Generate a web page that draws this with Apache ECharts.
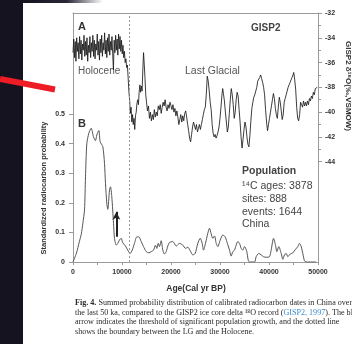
<!DOCTYPE html>
<html><head><meta charset="utf-8">
<script src="https://cdn.jsdelivr.net/npm/echarts@6/dist/echarts.min.js"></script>
<style>html,body{margin:0;padding:0;background:#fff}#c{width:352px;height:344px}</style>
</head><body><div id="c"></div>
<script>
// GISP2 delta 18O record (age cal yr BP, permil)
const gispHolocene = [[0,-35.2],[150,-34.1],[300,-35.6],[450,-34.3],[600,-35.9],[750,-34.0],[900,-35.1],[1050,-34.4],[1200,-35.7],[1350,-33.9],[1500,-35.3],[1650,-34.2],[1800,-35.8],[1950,-34.5],[2100,-35.0],[2250,-33.8],[2400,-35.5],[2550,-34.3],[2700,-35.4],[2850,-34.0],[3000,-35.9],[3150,-34.6],[3300,-35.2],[3450,-33.9],[3600,-35.6],[3750,-34.4],[3900,-35.1],[4050,-33.8],[4200,-35.5],[4350,-34.2],[4500,-35.7],[4650,-34.5],[4800,-35.0],[4950,-33.7],[5100,-35.4],[5250,-34.3],[5400,-35.8],[5550,-34.1],[5700,-35.2],[5850,-33.8],[6000,-35.5],[6150,-34.4],[6300,-35.0],[6450,-33.6],[6600,-35.3],[6750,-34.2],[6900,-35.6],[7050,-34.0],[7200,-35.1],[7350,-33.7],[7500,-35.4],[7650,-34.3],[7800,-35.0],[7950,-33.9],[8100,-35.3],[8250,-36.6],[8400,-34.2],[8550,-35.2],[8700,-33.8],[8850,-35.0],[9000,-34.1],[9150,-35.4],[9300,-33.7],[9450,-34.9],[9600,-33.9],[9750,-35.1],[9900,-34.2],[10050,-35.3],[10200,-34.6],[10350,-35.6],[10500,-35.1],[10650,-36.0],[10800,-35.7],[10950,-36.4],[11100,-36.2],[11250,-37.2],[11400,-38.3],[11550,-39.0],[11700,-40.1]];
const gispGlacial = [[11850,-39.6],[12000,-40.8],[12150,-40.2],[12300,-41.0],[12450,-40.5],[12600,-41.4],[12750,-40.3],[12900,-40.0],[13050,-39.3],[13200,-39.0],[13350,-39.4],[13500,-38.4],[13650,-37.8],[13800,-38.4],[13950,-37.9],[14100,-38.3],[14250,-36.6],[14400,-35.2],[14550,-36.2],[14700,-37.3],[14850,-38.6],[15000,-39.2],[15200,-39.9],[15400,-39.5],[15600,-40.5],[15800,-40.0],[16000,-40.7],[16200,-40.2],[16400,-40.6],[16600,-39.8],[16800,-40.4],[17000,-40.0],[17200,-40.3],[17400,-39.5],[17600,-39.8],[17800,-39.4],[18000,-40.1],[18200,-39.6],[18400,-39.2],[18600,-39.5],[18800,-39.0],[19000,-39.6],[19200,-39.9],[19400,-39.4],[19600,-39.7],[19800,-39.2],[20000,-39.5],[20200,-39.8],[20400,-39.4],[20600,-40.0],[20800,-39.7],[21000,-40.3],[21200,-39.9],[21400,-40.4],[21600,-41.0],[21800,-40.6],[22000,-40.2],[22200,-40.8],[22400,-40.3],[22600,-40.7],[22800,-40.1],[23000,-39.9],[23200,-40.4],[23400,-41.0],[23600,-41.5],[23800,-42.1],[24000,-42.4],[24200,-41.8],[24400,-41.2],[24600,-40.8],[24800,-40.9],[25000,-41.4],[25200,-41.0],[25400,-41.6],[25600,-41.3],[25800,-41.0],[26000,-41.4],[26200,-41.0],[26400,-40.6],[26600,-40.2],[26800,-39.8],[27000,-39.6],[27200,-38.6],[27400,-37.1],[27600,-37.5],[27800,-38.3],[28000,-39.2],[28200,-39.8],[28400,-41.0],[28600,-41.7],[28800,-42.0],[29000,-41.8],[29200,-42.1],[29400,-41.9],[29600,-41.6],[29800,-41.2],[30000,-40.5],[30200,-39.6],[30400,-38.6],[30550,-38.1],[30700,-38.5],[30900,-39.1],[31100,-40.0],[31300,-40.8],[31500,-41.6],[31700,-41.2],[31900,-40.1],[32100,-39.0],[32300,-38.1],[32500,-38.6],[32700,-39.4],[32900,-40.5],[33100,-40.0],[33300,-39.0],[33500,-38.4],[33700,-38.7],[33900,-39.8],[34100,-40.8],[34300,-42.0],[34500,-42.9],[34700,-42.2],[34900,-41.4],[35100,-40.8],[35300,-41.2],[35500,-42.0],[35700,-42.6],[35900,-42.8],[36100,-41.9],[36300,-40.7],[36500,-39.7],[36700,-39.2],[36900,-38.8],[37100,-38.6],[37300,-38.3],[37500,-38.0],[37700,-37.5],[37900,-37.4],[38100,-37.2],[38300,-37.0],[38500,-37.3],[38700,-37.6],[38900,-38.0],[39100,-38.6],[39300,-39.8],[39500,-40.8],[39700,-41.5],[39900,-41.0],[40100,-40.5],[40300,-40.0],[40500,-39.5],[40700,-39.0],[40900,-38.5],[41100,-38.9],[41300,-39.7],[41500,-40.2],[41700,-40.5],[41900,-39.6],[42100,-38.8],[42300,-39.2],[42500,-39.9],[42700,-40.6],[42900,-40.2],[43100,-39.2],[43300,-38.9],[43500,-38.6],[43700,-38.3],[43900,-38.0],[44100,-37.8],[44300,-37.6],[44500,-37.4],[44700,-37.2],[44900,-37.0],[45050,-36.8],[45250,-37.4],[45450,-38.2],[45650,-39.6],[45850,-40.5],[46050,-40.7],[46250,-40.2],[46450,-39.2],[46650,-39.4],[46850,-39.6],[47050,-39.1],[47250,-39.5],[47450,-39.2],[47650,-39.5],[47850,-39.1],[48050,-39.4],[48250,-38.9],[48450,-39.1],[48650,-38.7],[48850,-38.9],[49050,-38.4],[49250,-38.6],[49450,-38.1],[49650,-38.2],[49850,-38.0]];
// Standardized radiocarbon probability (age cal yr BP, probability)
const probability = [[0,0],[700,0.03],[1300,0.069],[1700,0.095],[2000,0.13],[2350,0.176],[2550,0.288],[2820,0.40],[3230,0.435],[3710,0.452],[4180,0.423],[4590,0.41],[4860,0.429],[5270,0.444],[5550,0.406],[6080,0.39],[6430,0.333],[6630,0.266],[6900,0.198],[7100,0.178],[7450,0.243],[7650,0.254],[7920,0.22],[8270,0.131],[8470,0.08],[8820,0.057],[9140,0.063],[9500,0.075],[9840,0.08],[10160,0.065],[10710,0.054],[11180,0.04],[11670,0.029],[12080,0.04],[12550,0.063],[13020,0.085],[13430,0.085],[13920,0.069],[14390,0.052],[14940,0.035],[15470,0.031],[15960,0.035],[16430,0.04],[16840,0.057],[17100,0.046],[17390,0.063],[17650,0.052],[18000,0.072],[18330,0.04],[18670,0.027],[19020,0.035],[19350,0.054],[19690,0.066],[20370,0.069],[21060,0.054],[21730,0.063],[22410,0.057],[22960,0.046],[23430,0.05],[23920,0.038],[24450,0.024],[24940,0.029],[25470,0.063],[25960,0.08],[26370,0.063],[26630,0.04],[27040,0.063],[27510,0.097],[27860,0.114],[28200,0.095],[28530,0.08],[28880,0.088],[29220,0.063],[29560,0.052],[30040,0.074],[30570,0.091],[31060,0.085],[31390,0.069],[31940,0.04],[32280,0.02],[32610,0.035],[32960,0.04],[33300,0.057],[33630,0.069],[33980,0.063],[34330,0.046],[34650,0.04],[35000,0.052],[35470,0.035],[35750,0.007],[36020,0],[37040,0],[37380,0.018],[37920,0.029],[38400,0.024],[38880,0.018],[39420,0.016],[40100,0.018],[40440,0.04],[40920,0.08],[41330,0.057],[41600,0.035],[42000,0.052],[42490,0.029],[42820,0.009],[43160,0.024],[43510,0.029],[43840,0.018],[44330,0.027],[44860,0.031],[45410,0.043],[45880,0.052],[46220,0.063],[46570,0.052],[46900,0.029],[47240,0.004],[47590,0],[49600,0]];
// Markers
const boundaryAge = 11500;               // LG / Holocene boundary (dotted line)
const arrowAge = 8850;                   // threshold of population growth
const arrowRange = [0.085, 0.17];
const ageRange = [0, 50000];
const gispRange = [-44, -32];
const probRange = [0, 0.5];
const populationLines = ['\u00B9\u2074C ages: 3878', 'sites: 888', 'events: 1644', 'China'];
const captionLines = [
  'Summed probability distribution of calibrated radiocarbon dates in China over',
  'the last 50 ka, compared to the GISP2 ice core delta \u00B9\u2078O record (',
  'arrow indicates the threshold of significant population growth, and the dotted line',
  'shows the boundary between the LG and the Holocene.'
];

const chart = echarts.init(document.getElementById('c'), null, {renderer: 'canvas'});
const F = 'Liberation Sans, Arial, sans-serif';
const AX = '#9a9a9a';
const lab = {fontFamily: F, fontSize: 7, fontWeight: 'bold', color: '#333'};
const CF = '8.1px Liberation Serif, serif';

const option = {
  animation: false,
  backgroundColor: '#fff',
  grid: [
    {left: 73, right: 34, top: 13, height: 148.7},
    {left: 73, right: 34, top: 114, height: 148},
    {left: 73, right: 34, top: 13, height: 249}
  ],
  xAxis: [
    {gridIndex: 0, type: 'value', min: ageRange[0], max: ageRange[1], position: 'top',
     axisLine: {show: true, onZero: false, lineStyle: {color: AX, width: 1}}, axisTick: {show: false}, axisLabel: {show: false}, splitLine: {show: false}},
    {gridIndex: 1, type: 'value', min: ageRange[0], max: ageRange[1], interval: 5000, position: 'bottom',
     axisLine: {show: true, onZero: false, lineStyle: {color: AX, width: 1}},
     axisTick: {show: true, length: 3, lineStyle: {color: AX}},
     axisLabel: Object.assign({margin: 7, formatter: v => (v % 10000 === 0 ? String(v) : '')}, lab),
     splitLine: {show: false}},
    {gridIndex: 2, type: 'value', min: ageRange[0], max: ageRange[1], show: false}
  ],
  yAxis: [
    {gridIndex: 0, type: 'value', position: 'right', min: gispRange[0], max: gispRange[1], interval: 2,
     axisLine: {show: true, onZero: false, lineStyle: {color: AX, width: 1}},
     axisTick: {show: true, length: 4, lineStyle: {color: AX}},
     minorTick: {show: true, splitNumber: 2, length: 3, lineStyle: {color: AX}},
     axisLabel: Object.assign({margin: 7}, lab), splitLine: {show: false}},
    {gridIndex: 0, type: 'value', position: 'left', min: gispRange[0], max: gispRange[1],
     axisLine: {show: true, onZero: false, lineStyle: {color: AX, width: 1}}, axisTick: {show: false}, axisLabel: {show: false}, splitLine: {show: false}},
    {gridIndex: 1, type: 'value', position: 'left', min: probRange[0], max: probRange[1], interval: 0.1,
     axisLine: {show: true, onZero: false, lineStyle: {color: AX, width: 1}},
     axisTick: {show: true, length: 4, lineStyle: {color: AX}},
     axisLabel: Object.assign({margin: 8, formatter: v => (v === 0 ? '0' : v.toFixed(1))}, lab),
     splitLine: {show: false}},
    {gridIndex: 1, type: 'value', position: 'right', min: probRange[0], max: probRange[1],
     axisLine: {show: true, onZero: false, lineStyle: {color: AX, width: 1}}, axisTick: {show: false}, axisLabel: {show: false}, splitLine: {show: false}},
    {gridIndex: 2, type: 'value', min: 0, max: 1, show: false}
  ],
  series: [
    {type: 'line', xAxisIndex: 0, yAxisIndex: 0, data: gispHolocene.concat(gispGlacial), showSymbol: false,
     lineStyle: {color: '#1a1a1a', width: 0.85}, silent: true},
    {type: 'line', xAxisIndex: 1, yAxisIndex: 2, data: probability, showSymbol: false, smooth: 0.25,
     lineStyle: {color: '#555', width: 1}, silent: true,
     markLine: {silent: true, symbol: ['none', 'arrow'], symbolSize: [6, 8], label: {show: false},
       lineStyle: {color: '#222', width: 2, type: 'solid'},
       data: [[{coord: [arrowAge, arrowRange[0]]}, {coord: [arrowAge, arrowRange[1]]}]]}},
    {type: 'line', xAxisIndex: 2, yAxisIndex: 4, data: [], silent: true,
     markLine: {silent: true, symbol: ['none', 'none'], label: {show: false},
       lineStyle: {color: '#999', width: 1, type: [2, 2]},
       data: [{xAxis: boundaryAge}]}}
  ],
  graphic: [
    {type: 'rect', left: 0, top: 0, shape: {width: 23, height: 344}, style: {fill: '#15131f'}, z: 100},
    {type: 'rect', left: 23, top: 0, shape: {width: 80, height: 3},
     style: {fill: new echarts.graphic.LinearGradient(0, 0, 1, 0, [{offset: 0, color: '#15131f'}, {offset: 0.55, color: '#2a2838'}, {offset: 1, color: '#ffffff'}])}, z: 100},
    {type: 'line', shape: {x1: 0, y1: 79, x2: 55, y2: 89.5}, style: {stroke: '#ee1c24', lineWidth: 6}, z: 101},
    {type: 'text', left: 78, top: 21, style: {text: 'A', font: 'bold 11px ' + F, fill: '#333'}},
    {type: 'text', left: 78, top: 118, style: {text: 'B', font: 'bold 11px ' + F, fill: '#333'}},
    {type: 'text', left: 251, top: 23, style: {text: 'GISP2', font: 'bold 10px ' + F, fill: '#444'}},
    {type: 'text', left: 78, top: 66, style: {text: 'Holocene', font: '10px ' + F, fill: '#555'}},
    {type: 'text', left: 185, top: 66, style: {text: 'Last Glacial', font: '10.5px ' + F, fill: '#555'}},
    {type: 'text', left: 242, top: 166, style: {text: 'Population', font: 'bold 10.5px ' + F, fill: '#444'}},
    {type: 'text', left: 242, top: 180, style: {text: populationLines.join('\n'), font: '10.5px ' + F, fill: '#444', lineHeight: 12.7}},
    {type: 'text', x: 196, y: 289, style: {text: 'Age(Cal yr BP)', font: 'bold 8.5px ' + F, fill: '#333', textAlign: 'center', textVerticalAlign: 'middle'}},
    {type: 'text', x: 44, y: 188, rotation: Math.PI / 2, style: {text: 'Standardized radiocarbon probability', font: 'bold 7.5px ' + F, fill: '#333', textAlign: 'center', textVerticalAlign: 'middle'}},
    {type: 'text', x: 348, y: 86, rotation: -Math.PI / 2, style: {text: 'GISP2 \u03B4\u00B9\u2078O(\u2030,VSMOW)', font: 'bold 8px ' + F, fill: '#333', textAlign: 'center', textVerticalAlign: 'middle'}},
    {type: 'text', left: 75, top: 298.5, style: {
      text: '{b|Fig. 4.} ' + captionLines[0] + '\n' + captionLines[1] + '{l|GISP2, 1997}). The black\n' + captionLines[2] + '\n' + captionLines[3],
      font: CF, fill: '#2a2a2a', lineHeight: 9.5,
      rich: {b: {font: 'bold ' + CF, fill: '#2a2a2a', lineHeight: 9.5}, l: {font: CF, fill: '#3d8ccc', lineHeight: 9.5}}}}
  ]
};
chart.setOption(option);
</script></body></html>
